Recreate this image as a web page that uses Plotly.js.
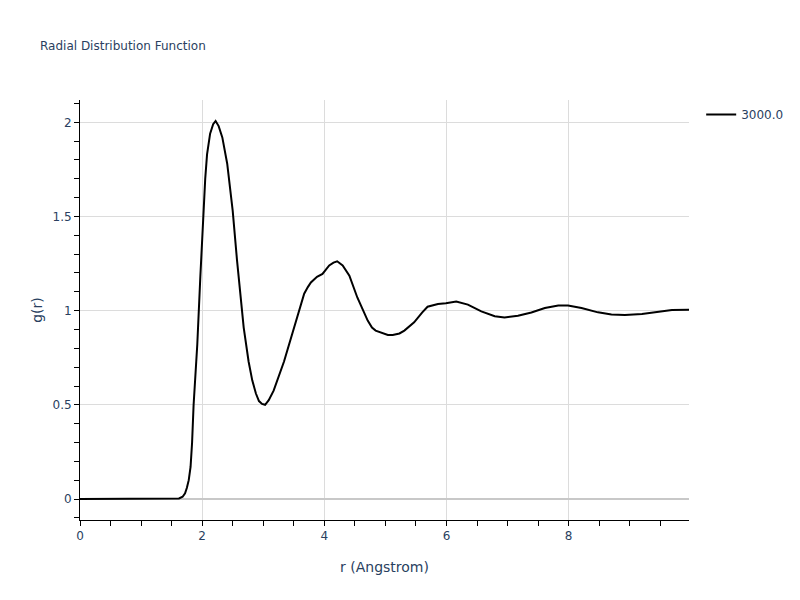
<!DOCTYPE html>
<html>
<head>
<meta charset="utf-8">
<script src="https://cdn.plot.ly/plotly-3.0.1.min.js"></script>
<style>html,body{margin:0;padding:0;background:#fff;}</style>
</head>
<body>
<div id="chart" style="width:800px;height:600px;"></div>
<script>
const seriesName = "3000.0";
const r = [0, 0.5, 1.0, 1.5, 1.62, 1.68, 1.72, 1.75, 1.78, 1.81, 1.835, 1.86, 1.89, 1.92, 1.97, 2.02, 2.05, 2.08, 2.13, 2.18, 2.22, 2.27, 2.33, 2.41, 2.50, 2.57, 2.68, 2.76, 2.82, 2.88, 2.93, 2.98, 3.03, 3.09, 3.17, 3.34, 3.50, 3.67, 3.73, 3.78, 3.88, 3.97, 4.08, 4.15, 4.21, 4.30, 4.41, 4.54, 4.71, 4.78, 4.84, 4.93, 5.04, 5.12, 5.23, 5.31, 5.47, 5.60, 5.69, 5.86, 5.99, 6.16, 6.35, 6.57, 6.79, 6.95, 7.17, 7.39, 7.61, 7.83, 7.99, 8.21, 8.48, 8.70, 8.92, 9.20, 9.47, 9.69, 9.97];
const g = [0, 0, 0, 0.001, 0.003, 0.012, 0.03, 0.06, 0.10, 0.17, 0.30, 0.50, 0.66, 0.82, 1.18, 1.53, 1.70, 1.83, 1.94, 1.99, 2.007, 1.98, 1.92, 1.78, 1.53, 1.27, 0.91, 0.73, 0.63, 0.56, 0.52, 0.505, 0.50, 0.525, 0.575, 0.73, 0.91, 1.09, 1.125, 1.15, 1.18, 1.195, 1.24, 1.255, 1.262, 1.24, 1.186, 1.07, 0.947, 0.91, 0.894, 0.885, 0.871, 0.871, 0.879, 0.894, 0.938, 0.99, 1.021, 1.035, 1.039, 1.049, 1.032, 0.996, 0.97, 0.964, 0.973, 0.99, 1.014, 1.027, 1.027, 1.014, 0.991, 0.979, 0.977, 0.982, 0.996, 1.004, 1.005];

const font = {family: "'DejaVu Sans', Verdana, sans-serif", color: '#2a3f5f'};
const axisCommon = {
  showline: true, linecolor: 'black', linewidth: 1,
  ticks: 'outside', ticklen: 5, tickcolor: 'black',
  showgrid: true, gridcolor: '#dcdcdc', gridwidth: 1,
  zeroline: false,
  tickfont: {size: 12, color: '#2a3f5f'}
};
const data = [{
  x: r, y: g, type: 'scatter', mode: 'lines', name: seriesName,
  line: {color: 'black', width: 2}
}];
const layout = {
  width: 800, height: 600,
  font: font,
  paper_bgcolor: 'white', plot_bgcolor: 'white',
  title: {text: 'Radial Distribution Function', font: {size: 12, color: '#2a3f5f'}, x: 0.05, xanchor: 'left'},
  margin: {l: 80, r: 80, t: 100, b: 80},
  showlegend: true,
  legend: {font: {size: 12}},
  xaxis: Object.assign({}, axisCommon, {
    title: {text: 'r (Angstrom)', font: {size: 14}},
    dtick: 2, tick0: 0,
    minor: {dtick: 0.5, ticks: 'outside', ticklen: 5, tickcolor: 'black', showgrid: false}
  }),
  yaxis: Object.assign({}, axisCommon, {
    title: {text: 'g(r)', font: {size: 14}},
    dtick: 0.5, tick0: 0,
    zeroline: true, zerolinecolor: '#c8c8c8', zerolinewidth: 2,
    minor: {dtick: 0.1, ticks: 'outside', ticklen: 5, tickcolor: 'black', showgrid: false}
  })
};
Plotly.newPlot('chart', data, layout, {displayModeBar: false});
</script>
</body>
</html>
